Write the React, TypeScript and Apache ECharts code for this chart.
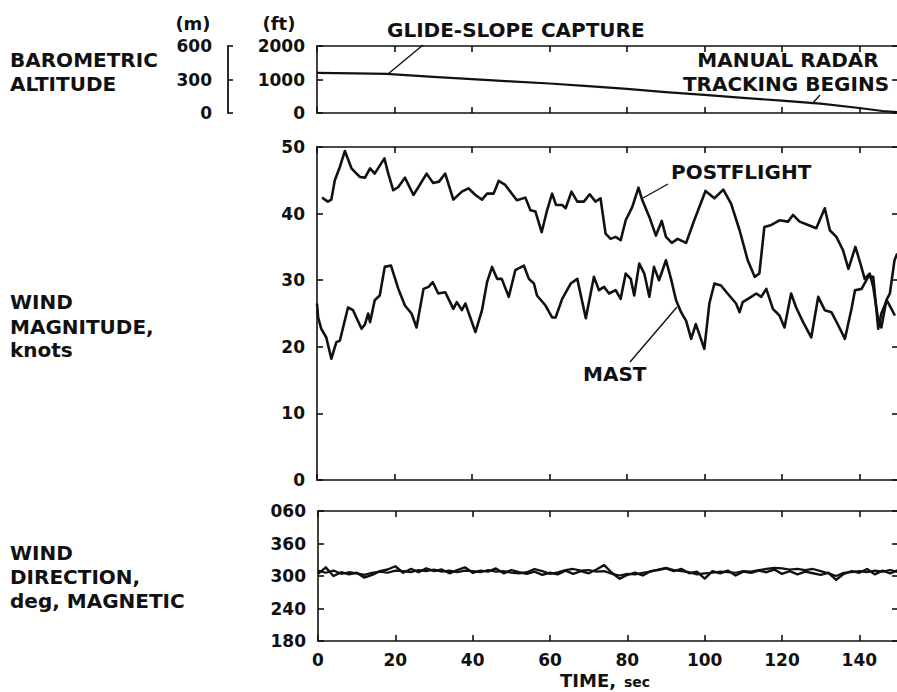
import React, { useEffect, useRef } from "react";
import * as echarts from "echarts";

// ---------- DATA ----------
const timeTicks = [0, 20, 40, 60, 80, 100, 120, 140];

// Barometric altitude, [time s, feet]
const altitudeFt: number[][] = [
  [0, 1200], [10, 1185], [18, 1165], [30, 1080], [40, 1010], [50, 945], [60, 880],
  [70, 800], [80, 720], [90, 625], [100, 540], [110, 450], [120, 370], [130, 280],
  [140, 150], [146, 60], [150, 25],
];

// Wind magnitude, knots, [time s, knots]
const postflightMag: number[][] = [
  [1.3, 42.4], [2.8, 41.8], [3.7, 42.1], [4.6, 45.0], [5.9, 47.0], [7.2, 49.4], [8.9, 46.8],
  [10.2, 46.0], [11.1, 45.5], [12.4, 45.4], [13.7, 46.8], [14.9, 46.0], [17.4, 48.3], [18.4, 46.0],
  [19.7, 43.5], [21, 44.0], [22.7, 45.4], [24.9, 42.8], [26.2, 44.0], [28.3, 46.0], [30, 44.6],
  [31.5, 44.8], [33.1, 46.0], [35.2, 42.1], [37.4, 43.3], [39.1, 43.8], [40.9, 42.8], [42.6, 42.1],
  [43.9, 43.0], [45.6, 43.0], [46.9, 44.9], [48.6, 44.3], [51.6, 42.0], [53.8, 42.4], [55.1, 40.5],
  [56.4, 40.3], [58, 37.2], [59.4, 40.5], [60.7, 43.0], [61.7, 41.3], [63.3, 41.3], [64.2, 40.8],
  [65.7, 43.3], [67.2, 41.8], [68.9, 41.8], [70.4, 42.9], [71.9, 41.8], [73.2, 42.3], [74.5, 37.0],
  [75.8, 36.2], [77.1, 36.5], [78.4, 36.0], [79.7, 39.0], [81.4, 41.0], [83, 43.9], [84, 42.0],
  [85.8, 39.5], [87.5, 36.7], [89, 38.9], [90.1, 36.5], [91.6, 35.6], [93.1, 36.2], [95.3, 35.6],
  [97.4, 39.0], [100.3, 43.4], [102.6, 42.3], [104.9, 43.6], [106.9, 41.5], [109.1, 37.5],
  [111.2, 33.0], [113, 30.5], [114.2, 31.0], [115.5, 38.0], [117.3, 38.3], [119.4, 39.0],
  [121.6, 38.8], [122.9, 39.8], [124.6, 38.8], [126.8, 38.3], [128.9, 37.8], [131.1, 40.8],
  [132.4, 37.5], [134.1, 36.5], [135.8, 34.5], [137.2, 31.7], [139, 35.0], [140.3, 32.5],
  [141.4, 30.2], [142.7, 31.0], [143.6, 29.0], [144.8, 24.4], [145.7, 22.9], [147, 27.0],
  [147.9, 28.0], [149.1, 33.0], [149.8, 34.0],
];

const mastMag: number[][] = [
  [0, 26.5], [0.3, 24.4], [1.1, 22.7], [2.4, 21.4], [3.7, 18.2], [5, 20.7], [5.9, 20.9], [8, 25.9],
  [9.3, 25.5], [11.5, 22.7], [12.4, 23.4], [13.2, 25.0], [13.7, 23.7], [14.9, 27.0], [16.2, 27.7],
  [17.5, 32.0], [19.1, 32.2], [21, 28.7], [22.7, 26.2], [24.4, 25.0], [25.7, 22.9], [27.5, 28.7],
  [28.8, 29.0], [29.9, 29.7], [31.3, 28.0], [33.1, 28.2], [35.2, 25.7], [36.1, 26.7], [37.4, 25.5],
  [38.3, 26.5], [40.9, 22.2], [42.6, 25.5], [43.9, 29.7], [45.2, 32.0], [46.5, 30.2], [47.7, 30.2],
  [49.5, 27.5], [51.2, 31.5], [53.4, 32.2], [54.7, 30.2], [56, 29.5], [56.8, 27.7], [59, 26.2],
  [60.7, 24.4], [61.6, 24.4], [63.3, 27.2], [65.5, 29.5], [67.2, 30.2], [69.4, 24.3], [71.5, 30.5],
  [72.8, 28.5], [74.1, 29.0], [75.4, 28.0], [77.1, 28.5], [78.4, 27.2], [79.7, 31.0], [81, 30.2],
  [81.9, 27.7], [83.2, 32.5], [84.5, 31.0], [85.8, 27.5], [87, 32.0], [88.3, 30.0], [90.1, 33.0],
  [91.4, 30.2], [92.7, 27.0], [94, 25.2], [95.3, 23.9], [96.6, 21.2], [97.8, 23.4], [100, 19.7],
  [101.3, 26.5], [102.6, 29.5], [104.3, 29.2], [106, 28.0], [108.2, 26.5], [109.1, 25.2],
  [109.9, 26.7], [112.1, 27.5], [113.4, 28.0], [114.7, 27.5], [116, 28.7], [117.7, 25.7],
  [119.4, 24.7], [120.7, 22.9], [122.4, 28.0], [123.7, 25.9], [125.5, 23.7], [127.6, 21.4],
  [129.4, 27.5], [131.1, 25.5], [132.8, 25.2], [134.6, 23.2], [136.3, 21.2], [138, 25.7],
  [138.9, 28.5], [140.6, 28.7], [142.3, 30.5], [143.6, 30.5], [144.9, 22.7], [145.7, 25.0],
  [147.1, 27.0], [149.2, 24.7],
];

// Wind direction, deg magnetic, sampled every 2 s from t = 0
const dirStep = 2;
const mastDir = [
  304, 316, 300, 307, 303, 306, 297, 302, 309, 312, 318, 306, 313, 307, 314, 309, 312, 305, 311, 316,
  306, 310, 308, 314, 305, 311, 307, 304, 308, 302, 306, 303, 310, 304, 309, 305, 312, 320, 306, 295,
  302, 306, 301, 309, 311, 314, 309, 313, 305, 308, 295, 309, 305, 310, 301, 308, 306, 310, 307, 312,
  304, 309, 303, 308, 305, 302, 306, 293, 304, 309, 306, 313, 303, 310, 305, 311,
];
const postflightDir = [
  310, 306, 310, 304, 307, 305, 302, 306, 308, 306, 310, 309, 307, 311, 309, 312, 308, 310, 307, 310,
  309, 307, 311, 308, 309, 306, 305, 307, 313, 309, 304, 307, 311, 313, 310, 311, 308, 309, 304, 301,
  304, 303, 306, 308, 312, 315, 311, 309, 307, 303, 305, 306, 308, 307, 306, 309, 308, 311, 313, 315,
  314, 312, 313, 311, 313, 309, 305, 300, 306, 307, 309, 307, 310, 308, 311, 307,
];

// ---------- STYLE HELPERS ----------
const FONT = "DejaVu Sans";
const BLACK = "#111";

const axisLine = { show: true, onZero: false, lineStyle: { color: BLACK, width: 1.6 } };
const tick = (len = 6) => ({ show: true, inside: true, length: len, lineStyle: { color: BLACK, width: 1.6 } });
const labelStyle = { color: BLACK, fontFamily: FONT, fontWeight: "bold" as const, fontSize: 17 };

function xAxisFor(gridIndex: number, position: "top" | "bottom", labels: boolean) {
  return {
    type: "value",
    gridIndex,
    position,
    min: 0,
    max: 150,
    interval: 20,
    axisLine,
    axisTick: tick(6),
    splitLine: { show: false },
    axisLabel: labels
      ? {
          ...labelStyle,
          margin: 10,
          showMaxLabel: false,
          formatter: (v: number) => (timeTicks.includes(v) ? String(v) : ""),
        }
      : { show: false },
  };
}

function yAxisFor(
  gridIndex: number,
  position: "left" | "right",
  min: number,
  max: number,
  interval: number,
  labels: boolean,
  formatter?: (v: number) => string,
  offset = 0,
  margin = 12
) {
  return {
    type: "value",
    gridIndex,
    position,
    offset,
    min,
    max,
    interval,
    axisLine: { show: true, onZero: false, lineStyle: { color: BLACK, width: 1.6 } },
    axisTick: tick(6),
    splitLine: { show: false },
    axisLabel: labels
      ? { ...labelStyle, margin, showMinLabel: true, showMaxLabel: true, formatter: formatter || ((v: number) => String(v)) }
      : { show: false },
  };
}

const dirFormatter = (v: number) => (v > 360 ? String(v - 360).padStart(3, "0") : String(v));

const toPairs = (vals: number[]) => vals.map((v, i) => [i * dirStep, v]);

const lineSeries = (name: string, xAxisIndex: number, yAxisIndex: number, data: number[][], width = 2.6) => ({
  name,
  type: "line",
  xAxisIndex,
  yAxisIndex,
  data,
  showSymbol: false,
  symbol: "none",
  smooth: false,
  lineStyle: { color: BLACK, width, join: "round" },
  z: 3,
});

const txt = (text: string, x: number, y: number, size = 20, align = "left", weight = "bold") => ({
  type: "text",
  x,
  y,
  silent: true,
  style: {
    text,
    fill: BLACK,
    fontFamily: FONT,
    fontWeight: weight,
    fontSize: size,
    textAlign: align,
    textVerticalAlign: "middle",
    align,
    verticalAlign: "middle",
  },
});

const leader = (x1: number, y1: number, x2: number, y2: number) => ({
  type: "line",
  silent: true,
  shape: { x1, y1, x2, y2 },
  style: { stroke: BLACK, lineWidth: 1.4 },
});

const mAxis = {
  ...yAxisFor(0, "left", 0, 600, 300, true, undefined, 89, 16),
  axisLine: { show: true, onZero: false, lineStyle: { color: BLACK, width: 1.8 } },
  axisTick: { show: true, inside: true, length: 5, lineStyle: { color: BLACK, width: 1.6 } },
};

const option = {
  animation: false,
  backgroundColor: "#fff",
  grid: [
    { left: 317, top: 46, width: 581, height: 67, outerBoundsMode: "none", containLabel: false },
    { left: 317, top: 147, width: 581, height: 333, outerBoundsMode: "none", containLabel: false },
    { left: 318, top: 511, width: 580, height: 130, outerBoundsMode: "none", containLabel: false },
  ],
  xAxis: [
    xAxisFor(0, "bottom", false),
    xAxisFor(0, "top", false),
    xAxisFor(1, "bottom", false),
    xAxisFor(1, "top", false),
    xAxisFor(2, "bottom", true),
    xAxisFor(2, "top", false),
  ],
  yAxis: [
    yAxisFor(0, "left", 0, 2000, 1000, true, undefined, 0, 12),
    yAxisFor(0, "right", 0, 2000, 1000, false),
    mAxis,
    yAxisFor(1, "left", 0, 50, 10, true, undefined, 0, 12),
    yAxisFor(1, "right", 0, 50, 10, false),
    yAxisFor(2, "left", 180, 420, 60, true, dirFormatter, 0, 12),
    yAxisFor(2, "right", 180, 420, 60, false),
  ],
  series: [
    lineSeries("Altitude", 0, 0, altitudeFt, 2.2),
    lineSeries("Postflight", 2, 3, postflightMag),
    lineSeries("Mast", 2, 3, mastMag),
    lineSeries("Mast direction", 4, 5, toPairs(mastDir), 2.4),
    lineSeries("Postflight direction", 4, 5, toPairs(postflightDir), 2.2),
  ],
  graphic: [
    txt("(m)", 193, 23, 18, "center"),
    txt("(ft)", 279, 23, 18, "center"),
    txt("BAROMETRIC", 10, 60),
    txt("ALTITUDE", 10, 84),
    txt("WIND", 10, 302),
    txt("MAGNITUDE,", 10, 327),
    txt("knots", 10, 350),
    txt("WIND", 10, 553),
    txt("DIRECTION,", 10, 577),
    txt("deg, MAGNETIC", 10, 601),
    txt("GLIDE-SLOPE CAPTURE", 387, 30),
    leader(388, 74, 423, 45),
    txt("MANUAL RADAR", 788, 60, 20, "center"),
    txt("TRACKING BEGINS", 786, 84, 20, "center"),
    leader(812, 104, 820, 95),
    txt("POSTFLIGHT", 671, 172),
    leader(643, 198, 668, 184),
    txt("MAST", 583, 374),
    leader(630, 362, 677, 307),
    txt("TIME,", 560, 680, 18, "left"),
    txt("sec", 624, 682, 14, "left"),
  ],
};

export default function App() {
  const ref = useRef<HTMLDivElement>(null);
  useEffect(() => {
    if (!ref.current) return;
    const chart = echarts.init(ref.current, null, { renderer: "svg" });
    chart.setOption(option as any);
    return () => chart.dispose();
  }, []);
  return (
    <div
      ref={ref}
      style={{ position: "fixed", left: 0, top: 0, width: 897, height: 692, background: "#fff" }}
    />
  );
}
